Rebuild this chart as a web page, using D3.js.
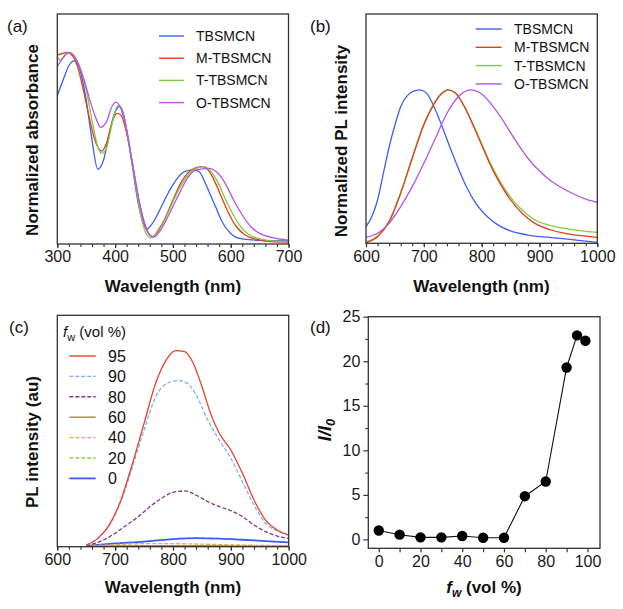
<!DOCTYPE html>
<html><head><meta charset="utf-8">
<script src="https://cdn.jsdelivr.net/npm/d3@7"></script>
<style>body{margin:0;background:#fff;} svg{display:block;font-family:"Liberation Sans",Arial,Helvetica,sans-serif;}</style>
</head><body><svg id="chart" width="623" height="609"></svg>
<script>
// ---------- DATA ----------
// (a) normalized absorbance [wavelength nm, value]
const absTBSMCN = [[300,0.645],[310,0.713],[320,0.775],[329,0.796],[340,0.75],[350,0.626],[360,0.452],[370,0.325],[380,0.365],[390,0.481],[400,0.575],[408,0.597],[415,0.561],[420,0.496],[430,0.336],[440,0.177],[450,0.083],[455,0.064],[460,0.075],[470,0.112],[480,0.162],[490,0.213],[500,0.257],[510,0.293],[520,0.315],[535,0.322],[545,0.315],[555,0.271],[565,0.213],[575,0.155],[585,0.097],[600,0.046],[620,0.022],[650,0.016],[700,0.014]];
const absM = [[300,0.822],[305,0.825],[316,0.833],[325,0.822],[335,0.771],[345,0.67],[355,0.554],[365,0.452],[377,0.404],[385,0.438],[395,0.532],[403,0.568],[410,0.561],[420,0.481],[430,0.351],[440,0.206],[450,0.097],[458,0.045],[465,0.032],[475,0.061],[485,0.104],[495,0.162],[505,0.22],[515,0.271],[525,0.307],[540,0.332],[552,0.336],[565,0.307],[575,0.257],[585,0.199],[595,0.141],[610,0.075],[625,0.039],[645,0.02],[670,0.01],[700,0.008]];
const absT = [[300,0.812],[305,0.80],[312,0.815],[322,0.833],[330,0.814],[340,0.764],[350,0.67],[360,0.539],[370,0.423],[377,0.394],[385,0.416],[395,0.525],[405,0.604],[415,0.554],[425,0.423],[435,0.264],[445,0.119],[455,0.039],[462,0.027],[470,0.039],[480,0.075],[490,0.126],[500,0.184],[510,0.235],[520,0.278],[535,0.322],[555,0.336],[570,0.30],[580,0.257],[590,0.199],[600,0.148],[615,0.083],[630,0.043],[650,0.023],[680,0.012],[700,0.01]];
const absO = [[300,0.771],[310,0.81],[318,0.833],[328,0.822],[338,0.771],[348,0.699],[358,0.612],[368,0.539],[375,0.507],[385,0.532],[395,0.60],[401,0.617],[410,0.59],[420,0.496],[430,0.351],[440,0.206],[450,0.097],[460,0.039],[467,0.03],[477,0.054],[487,0.097],[497,0.148],[507,0.199],[517,0.249],[527,0.293],[540,0.322],[563,0.329],[575,0.314],[585,0.286],[595,0.242],[605,0.191],[620,0.126],[635,0.075],[650,0.046],[670,0.029],[700,0.017]];

// (b) normalized PL intensity
const plTBSMCN = [[600,0.073],[610,0.116],[620,0.189],[630,0.305],[640,0.42],[650,0.516],[660,0.596],[670,0.64],[680,0.661],[693,0.669],[705,0.654],[715,0.61],[725,0.552],[735,0.487],[745,0.42],[755,0.356],[765,0.295],[775,0.24],[790,0.174],[810,0.116],[830,0.077],[850,0.054],[880,0.036],[920,0.025],[960,0.015],[1000,0.004]];
const plM = [[600,0.003],[620,0.029],[640,0.094],[660,0.218],[680,0.371],[700,0.516],[715,0.596],[730,0.651],[742,0.669],[755,0.654],[770,0.596],[785,0.516],[800,0.429],[815,0.342],[830,0.269],[850,0.189],[870,0.131],[890,0.09],[920,0.058],[950,0.041],[1000,0.026]];
const plT = [[600,0.007],[620,0.032],[640,0.098],[660,0.222],[680,0.375],[700,0.52],[715,0.598],[730,0.652],[742,0.669],[755,0.655],[770,0.598],[785,0.52],[800,0.435],[815,0.35],[830,0.278],[850,0.2],[870,0.145],[890,0.105],[920,0.077],[950,0.062],[1000,0.048]];
const plO = [[600,0.026],[620,0.044],[640,0.087],[660,0.16],[680,0.247],[700,0.349],[720,0.458],[740,0.567],[760,0.64],[780,0.669],[800,0.651],[820,0.596],[840,0.523],[860,0.443],[880,0.371],[900,0.315],[920,0.272],[940,0.24],[960,0.214],[980,0.193],[1000,0.179]];

// (c) PL intensity vs water fraction
const fw95 = [[650,0.007],[670,0.036],[690,0.094],[710,0.202],[730,0.36],[750,0.533],[770,0.706],[790,0.814],[805,0.847],[820,0.843],[835,0.793],[850,0.692],[865,0.576],[880,0.49],[900,0.418],[920,0.317],[940,0.202],[960,0.115],[980,0.072],[1000,0.05]];
const fw90 = [[650,0.007],[670,0.036],[690,0.094],[710,0.195],[730,0.346],[750,0.504],[770,0.648],[790,0.706],[810,0.718],[825,0.706],[840,0.656],[860,0.548],[880,0.461],[900,0.382],[920,0.281],[940,0.18],[960,0.101],[980,0.069],[1000,0.05]];
const fw80 = [[650,0.004],[680,0.029],[700,0.058],[720,0.094],[740,0.13],[760,0.173],[780,0.209],[800,0.235],[820,0.241],[840,0.223],[860,0.195],[880,0.173],[900,0.156],[920,0.13],[940,0.094],[960,0.065],[980,0.046],[1000,0.036]];
const fw60 = [[650,0.002],[750,0.004],[850,0.004],[1000,0.002]];
const fw40 = [[650,0.004],[700,0.009],[750,0.013],[800,0.013],[850,0.011],[900,0.008],[1000,0.004]];
const fw20 = [[650,0.002],[750,0.005],[850,0.005],[1000,0.003]];
const fw0 = [[650,0.004],[700,0.014],[750,0.022],[800,0.033],[840,0.037],[880,0.035],[920,0.03],[960,0.024],[1000,0.019]];

// (d) I/I0 vs fw
const fwValues = [0,10,20,30,40,50,60,70,80,90,95,99];
const ratioValues = [1.0,0.53,0.23,0.23,0.38,0.19,0.19,4.85,6.5,19.3,22.9,22.3];

// tick labels
const wlTicksA = [300,400,500,600,700];
const wlTicksB = [600,700,800,900,1000];
const fwTickLabels = [0,20,40,60,80,100];
const ratioTickLabels = [0,5,10,15,20,25];

const namesAB = ["TBSMCN","M-TBSMCN","T-TBSMCN","O-TBSMCN"];
const colorsAB = ["#3f5ef2","#e0401f","#7ecb42","#b553e8"];
const fwLabels = ["95","90","80","60","40","20","0"];
const fwColors = ["#e8412a","#7fb0f0","#7a3d80","#a5874e","#f2aa45","#8bd05a","#3a5cf0"];
const fwDash = [null,"4,2","4,2",null,"4,2","4,2",null];

// ---------- DRAW ----------
const svg = d3.select("#chart");
const frameColor = "#333";

function frame(g, L, R, T, B){
  g.append("rect").attr("x",L).attr("y",T).attr("width",R-L).attr("height",B-T)
    .attr("fill","none").attr("stroke",frameColor).attr("stroke-width",1.3);
}
function bottomAxis(x, B, major, minor, labels){
  const ax = svg.append("g").attr("transform",`translate(0,${B})`)
    .call(d3.axisBottom(x).tickValues(minor).tickSize(3).tickFormat(""));
  ax.select(".domain").remove();
  ax.selectAll("line").attr("stroke",frameColor).attr("stroke-width",1.1);
  const ax2 = svg.append("g").attr("transform",`translate(0,${B})`)
    .call(d3.axisBottom(x).tickValues(major).tickSize(4).tickPadding(3)
      .tickFormat(d => labels.includes(d) ? d : ""));
  ax2.select(".domain").remove();
  ax2.selectAll("line").attr("stroke",frameColor).attr("stroke-width",1.2);
  ax2.selectAll("text").attr("font-size",16).attr("fill","#1a1a1a").attr("font-family","Liberation Sans, Arial, sans-serif");
}
function label(txt, x, y){
  svg.append("text").attr("x",x).attr("y",y).attr("font-size",17).attr("fill","#111").text(txt);
}
function xTitle(x, y){
  svg.append("text").attr("x",x).attr("y",y).attr("text-anchor","middle")
    .attr("font-size",17).attr("font-weight","bold").attr("fill","#111").text("Wavelength (nm)");
}
function yTitle(txt, x, y){
  svg.append("text").attr("transform",`translate(${x},${y}) rotate(-90)`).attr("text-anchor","middle")
    .attr("font-size",17).attr("font-weight","bold").attr("fill","#111").text(txt);
}

// Panel A
{
  const L=57.3,R=288.5,T=14,B=244;
  const x=d3.scaleLinear().domain([300,700]).range([L,R]);
  const y=d3.scaleLinear().domain([0,1]).range([B,T]);
  const line=d3.line().x(d=>x(d[0])).y(d=>y(d[1])).curve(d3.curveMonotoneX);
  const g=svg.append("g");
  [absTBSMCN,absM,absT,absO].forEach((s,i)=>{
    g.append("path").datum(s).attr("d",line).attr("fill","none").attr("stroke",colorsAB[i]).attr("stroke-width",1.3);
  });
  frame(svg,L,R,T,B);
  bottomAxis(x,B,d3.range(300,701,100),d3.range(300,701,20),wlTicksA);
  const lg=svg.append("g");
  namesAB.forEach((n,i)=>{
    const yy=36+i*22.2;
    lg.append("line").attr("x1",159).attr("x2",184).attr("y1",yy).attr("y2",yy).attr("stroke",colorsAB[i]).attr("stroke-width",1.4);
    lg.append("text").attr("x",196).attr("y",yy).attr("dy","0.36em").attr("font-size",14).attr("fill","#111").text(n);
  });
  label("(a)",7,32);
  xTitle(173,292);
  yTitle("Normalized absorbance",38,140);
}
// Panel B
{
  const L=366,R=597.3,T=14,B=243.3;
  const x=d3.scaleLinear().domain([600,1000]).range([L,R]);
  const y=d3.scaleLinear().domain([0,1]).range([B,T]);
  const line=d3.line().x(d=>x(d[0])).y(d=>y(d[1])).curve(d3.curveMonotoneX);
  const g=svg.append("g");
  [plTBSMCN,plT,plM,plO].forEach((s,i)=>{
    const ci=[0,2,1,3][i];
    g.append("path").datum(s).attr("d",line).attr("fill","none").attr("stroke",colorsAB[ci]).attr("stroke-width",1.3);
  });
  frame(svg,L,R,T,B);
  bottomAxis(x,B,d3.range(600,1001,100),d3.range(600,1001,20),wlTicksB);
  const lg=svg.append("g");
  namesAB.forEach((n,i)=>{
    const yy=29+i*18.3;
    lg.append("line").attr("x1",475.7).attr("x2",501.7).attr("y1",yy).attr("y2",yy).attr("stroke",colorsAB[i]).attr("stroke-width",1.4);
    lg.append("text").attr("x",514).attr("y",yy).attr("dy","0.36em").attr("font-size",14).attr("fill","#111").text(n);
  });
  label("(b)",310,32);
  xTitle(481.5,292);
  yTitle("Normalized PL intensity",347,141);
}
// Panel C
{
  const L=57.3,R=288.7,T=315.3,B=546.7;
  const x=d3.scaleLinear().domain([600,1000]).range([L,R]);
  const y=d3.scaleLinear().domain([0,1]).range([B,T]);
  const line=d3.line().x(d=>x(d[0])).y(d=>y(d[1])).curve(d3.curveMonotoneX);
  const g=svg.append("g");
  const series=[fw95,fw90,fw80,fw60,fw40,fw20,fw0];
  [6,5,4,3,2,1,0].forEach(i=>{
    const p=g.append("path").datum(series[i]).attr("d",line).attr("fill","none")
      .attr("stroke",fwColors[i]).attr("stroke-width",i===6?1.8:1.3);
    if(fwDash[i]) p.attr("stroke-dasharray",fwDash[i]);
  });
  frame(svg,L,R,T,B);
  bottomAxis(x,B,d3.range(600,1001,100),d3.range(600,1001,20),wlTicksB);
  const lg=svg.append("g");
  const hdr=lg.append("text").attr("x",63).attr("y",337).attr("font-size",15).attr("fill","#111");
  hdr.append("tspan").attr("font-style","italic").text("f");
  hdr.append("tspan").attr("font-size",11).attr("dy",4).text("w");
  hdr.append("tspan").attr("dy",-4).text(" (vol %)");
  fwLabels.forEach((n,i)=>{
    const yy=356+i*20.4;
    const l=lg.append("line").attr("x1",69.3).attr("x2",95.7).attr("y1",yy).attr("y2",yy)
      .attr("stroke",fwColors[i]).attr("stroke-width",i===6?1.8:1.4);
    if(fwDash[i]) l.attr("stroke-dasharray",fwDash[i]);
    lg.append("text").attr("x",108).attr("y",yy).attr("dy","0.36em").attr("font-size",16).attr("fill","#111").text(n);
  });
  label("(c)",9,333);
  xTitle(173,593);
  yTitle("PL intensity (au)",38,442);
}
// Panel D
{
  const L=368.3,R=600,T=316.7,B=548.3;
  const x=d3.scaleLinear().domain([-5,106]).range([L,R]);
  const y=d3.scaleLinear().domain([-1,25]).range([B,T]);
  const pts=fwValues.map((v,i)=>[v,ratioValues[i]]);
  svg.append("path").datum(pts).attr("d",d3.line().x(d=>x(d[0])).y(d=>y(d[1])))
    .attr("fill","none").attr("stroke","#111").attr("stroke-width",1.1);
  svg.append("g").selectAll("circle").data(pts).join("circle")
    .attr("cx",d=>x(d[0])).attr("cy",d=>y(d[1])).attr("r",5.2).attr("fill","#000");
  frame(svg,L,R,T,B);
  bottomAxis(x,B,d3.range(0,101,10),[],fwTickLabels);
  const ya=svg.append("g").attr("transform",`translate(${L},0)`)
    .call(d3.axisLeft(y).tickValues([2.5,7.5,12.5,17.5,22.5]).tickSize(3).tickFormat(""));
  ya.select(".domain").remove();
  ya.selectAll("line").attr("stroke",frameColor).attr("stroke-width",1.1);
  const yb=svg.append("g").attr("transform",`translate(${L},0)`)
    .call(d3.axisLeft(y).tickValues(ratioTickLabels).tickSize(5).tickPadding(3));
  yb.select(".domain").remove();
  yb.selectAll("line").attr("stroke",frameColor).attr("stroke-width",1.2);
  yb.selectAll("text").attr("font-size",16).attr("fill","#1a1a1a").attr("font-family","Liberation Sans, Arial, sans-serif");
  label("(d)",310,333);
  const t=svg.append("text").attr("x",484).attr("y",593).attr("text-anchor","middle")
    .attr("font-size",17).attr("font-weight","bold").attr("fill","#111");
  t.append("tspan").attr("font-style","italic").text("f");
  t.append("tspan").attr("font-style","italic").attr("font-size",12).attr("dy",4).text("w");
  t.append("tspan").attr("dy",-4).text(" (vol %)");
  const yt=svg.append("text").attr("transform",`translate(331,430) rotate(-90)`).attr("text-anchor","middle")
    .attr("font-size",18).attr("font-weight","bold").attr("font-style","italic").attr("fill","#111");
  yt.append("tspan").text("I/I");
  yt.append("tspan").attr("font-size",13).attr("dy",4).text("0");
}
</script></body></html>
